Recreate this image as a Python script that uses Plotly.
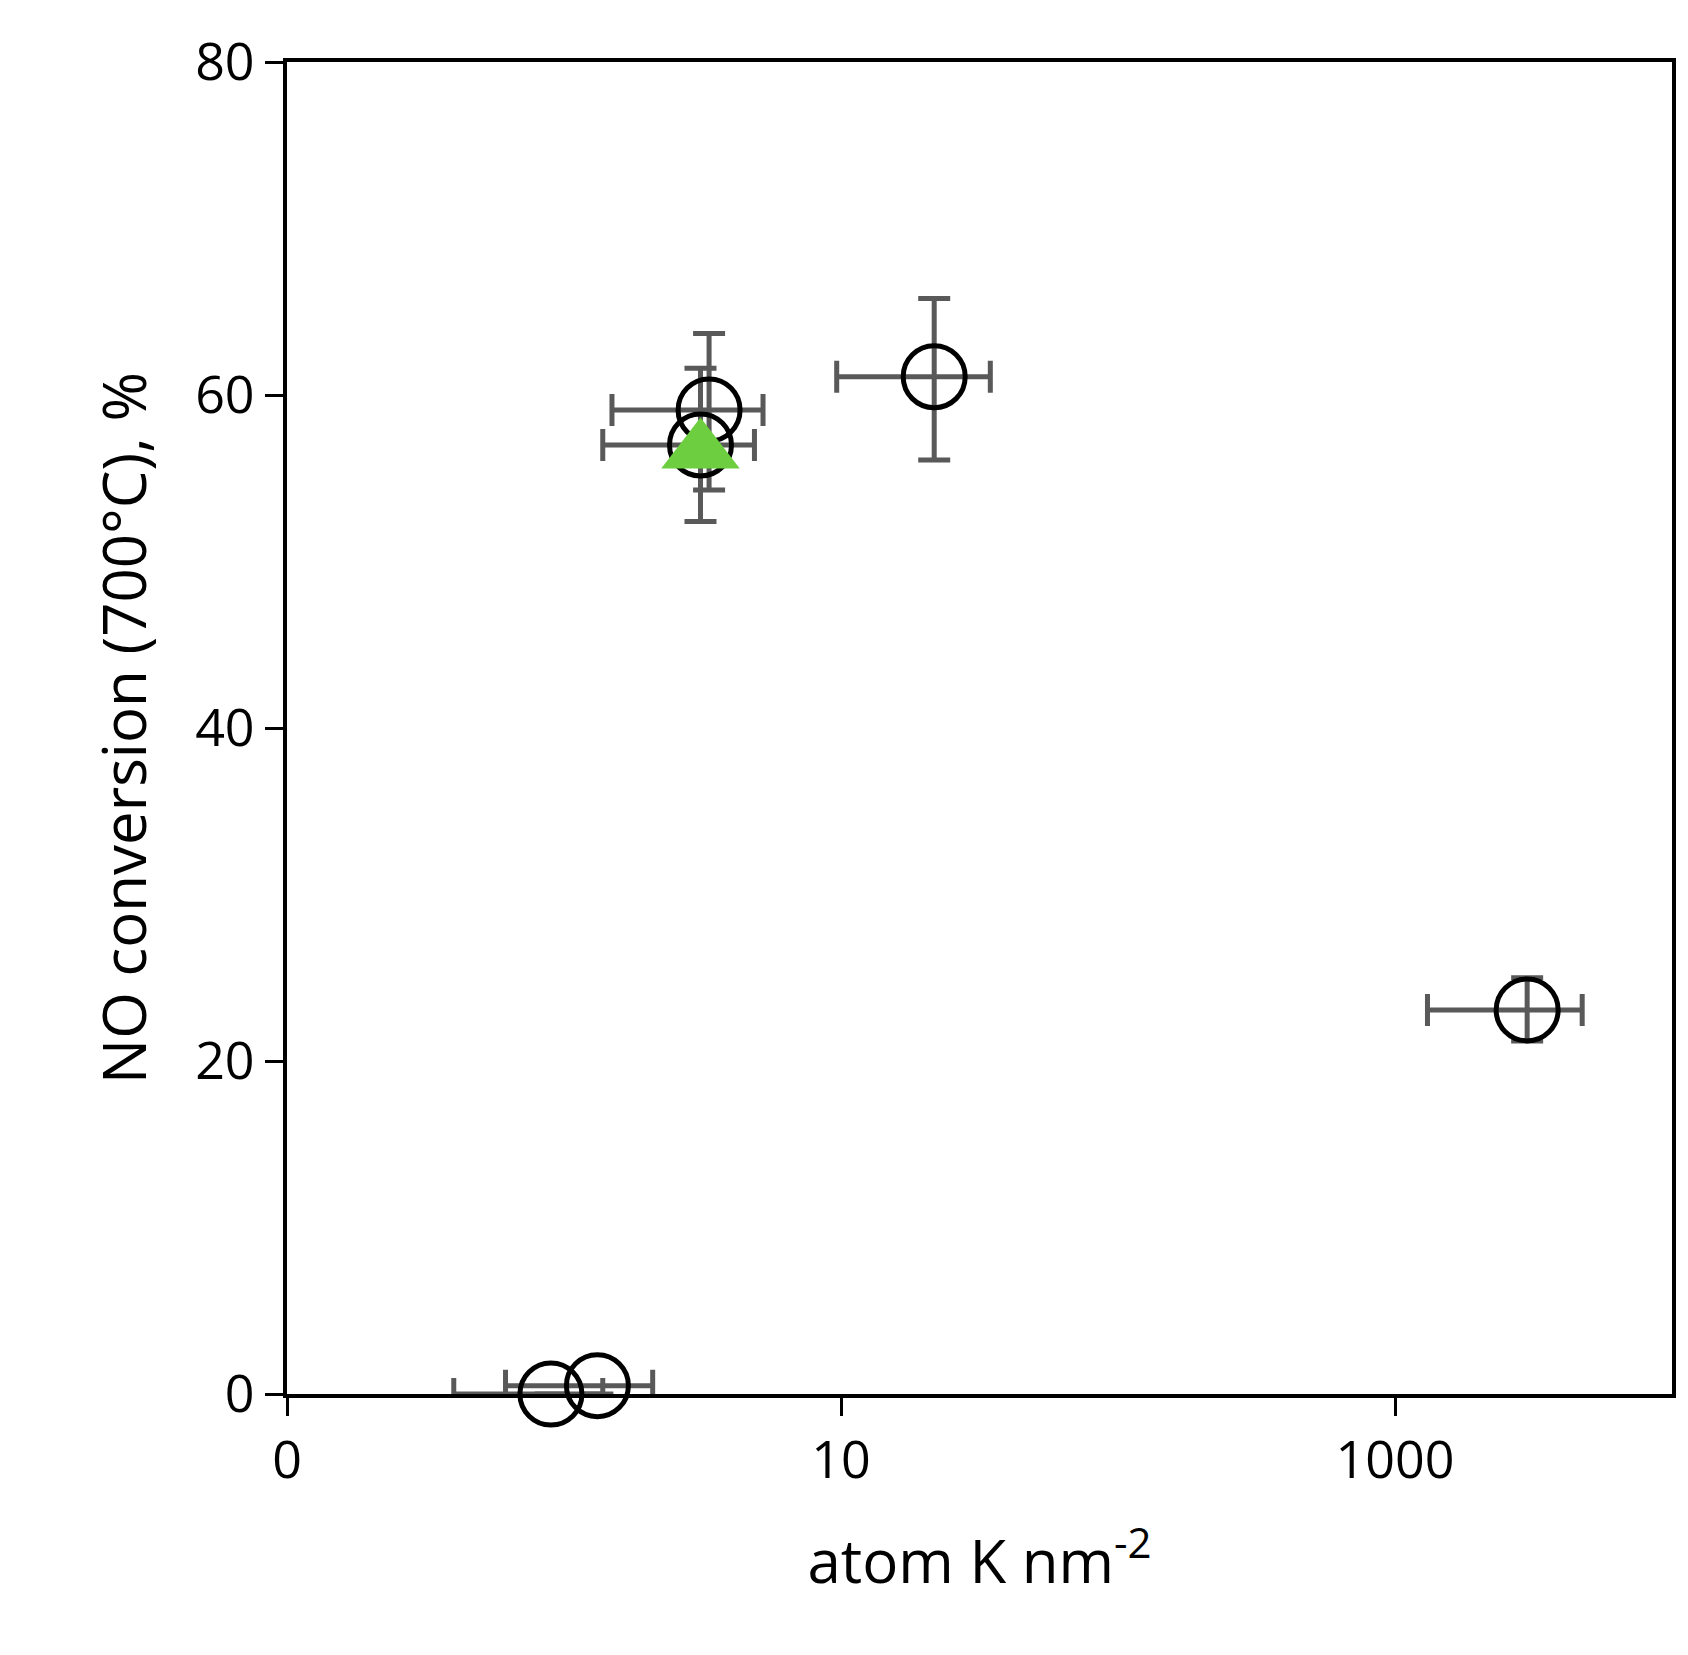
import plotly.graph_objects as go

# circles
cx = [0.897, 1.32, 3.34, 3.11, 21.7, 3000]
cy = [0.0, 0.5, 59.1, 57.0, 61.1, 23.07]
cx_lo = [0.40, 0.615, 1.49, 1.38, 9.65, 1310]
cx_hi = [1.38, 2.09, 5.23, 4.87, 34.6, 4740]
cy_lo = [0.0, 0.0, 54.3, 52.4, 56.1, 21.2]
cy_hi = [0.0, 0.0, 63.7, 61.6, 65.8, 25.0]
# triangle
tx = [3.11]
ty = [56.6]

fig = go.Figure()
fig.add_trace(go.Scatter(
    x=cx, y=cy, mode="markers",
    marker=dict(symbol="circle-open", size=62, color="black", line=dict(width=5)),
    error_x=dict(type="data", symmetric=False,
                 array=[h - x for h, x in zip(cx_hi, cx)],
                 arrayminus=[x - l for l, x in zip(cx_lo, cx)],
                 color="#595959", thickness=5, width=16),
    error_y=dict(type="data", symmetric=False,
                 array=[h - y for h, y in zip(cy_hi, cy)],
                 arrayminus=[y - l for l, y in zip(cy_lo, cy)],
                 color="#595959", thickness=5, width=16),
    cliponaxis=False, showlegend=False))
fig.add_trace(go.Scatter(
    x=tx, y=ty, mode="markers",
    marker=dict(symbol="triangle-up", size=68, color="#6DCF3F"),
    showlegend=False))

font = dict(family="Open Sans, Liberation Sans", size=52, color="black")
fig.update_layout(
    width=1688, height=1655, plot_bgcolor="white", paper_bgcolor="white",
    margin=dict(l=279, r=24, t=54, b=269), font=font,
    xaxis=dict(type="log", range=[-1, 4], tickvals=[0.1, 10, 1000],
               ticktext=["0", "10", "1000"], showgrid=False, zeroline=False,
               showline=True, linecolor="black", linewidth=4, mirror=True,
               ticks="outside", ticklen=18, tickwidth=3, tickcolor="black",
               title=dict(text="atom K nm<sup>-2</sup>", font=dict(size=60), standoff=50)),
    yaxis=dict(range=[0, 80], tickvals=[0, 20, 40, 60, 80], showgrid=False,
               zeroline=False, showline=True, linecolor="black", linewidth=4,
               mirror=True, ticks="outside", ticklen=18, tickwidth=3, tickcolor="black",
               title=dict(text="NO conversion (700°C), %", font=dict(size=60), standoff=30)),
)
fig.write_html("out.html")
